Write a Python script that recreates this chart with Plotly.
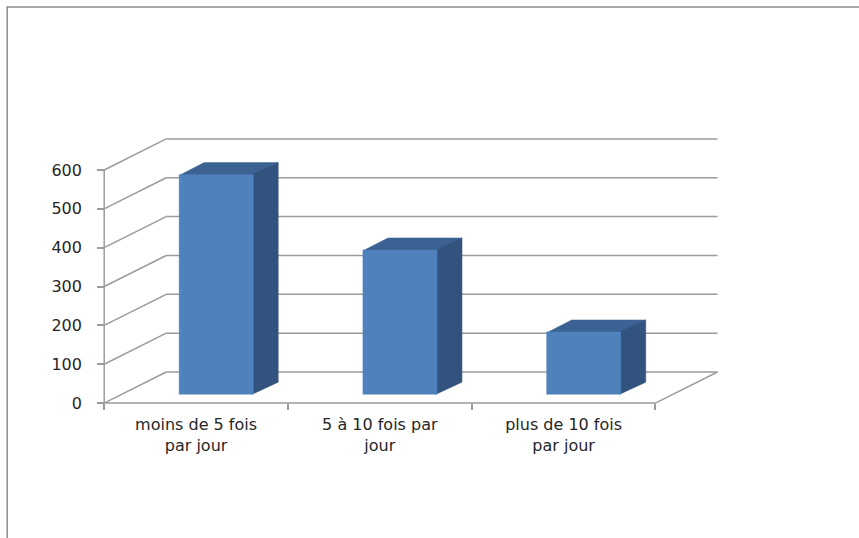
import plotly.graph_objects as go

# ---- data ----
categories = ["moins de 5 fois<br>par jour", "5 à 10 fois par<br>jour", "plus de 10 fois<br>par jour"]
values = [565, 371, 160]
y_ticks = [0, 100, 200, 300, 400, 500, 600]

# ---- oblique 3D projection parameters (data units) ----
WALL_DX, WALL_DY = 0.3375, 80      # full depth offset of the back wall
BAR_DY0 = 23                       # front face of bars relative to floor front
BAR_OFF, BAR_W = -0.092, 0.403     # bar front face horizontal offset / width
BAR_DDX, BAR_DDY = 0.136, 31       # bar depth offset

X0, X1 = -0.55, 2.9
Y0, Y1 = -10, 690
CAT_PX, VAL_PX = 183.7, 0.3885
W, H = 859, 538
ml = 104 - (-0.5 - X0) * CAT_PX
pw = (X1 - X0) * CAT_PX
mr = W - ml - pw
ph = (Y1 - Y0) * VAL_PX
mb = H - (403 + (0 - Y0) * VAL_PX)
mt = H - mb - ph

GRID = "#9b9b9b"
FRONT, TOP, SIDE = "#4f81bd", "#3b6293", "#32537d"

fig = go.Figure()

# back-wall gridlines and side-wall diagonals
n = len(categories)
gx, gy = [], []
for v in y_ticks:
    gx += [-0.5 + WALL_DX, n - 0.5 + WALL_DX, None]
    gy += [v + WALL_DY, v + WALL_DY, None]
    gx += [-0.5, -0.5 + WALL_DX, None]
    gy += [v, v + WALL_DY, None]
# floor front + right edge
gx += [-0.5, n - 0.5, n - 0.5 + WALL_DX, None]
gy += [0, 0, WALL_DY, None]
fig.add_trace(go.Scatter(x=gx, y=gy, mode="lines", line=dict(color=GRID, width=1.5),
                         hoverinfo="skip", showlegend=False))
# front vertical axis line
fig.add_trace(go.Scatter(x=[-0.5, -0.5], y=[0, y_ticks[-1]], mode="lines",
                         line=dict(color=GRID, width=1.5), hoverinfo="skip", showlegend=False))

# 3D bars: top, side and front faces
for i, v in enumerate(values):
    xl = i + BAR_OFF
    xr = xl + BAR_W
    b = BAR_DY0
    t = BAR_DY0 + v
    fig.add_trace(go.Scatter(
        x=[xl, xr, xr + BAR_DDX, xl + BAR_DDX, xl],
        y=[t - 2, t - 2, t + BAR_DDY, t + BAR_DDY, t - 2],
        mode="lines", fill="toself", fillcolor=TOP, line=dict(width=0.5, color=TOP),
        hoverinfo="skip", showlegend=False))
    fig.add_trace(go.Scatter(
        x=[xr - 0.005, xr + BAR_DDX, xr + BAR_DDX, xr - 0.005, xr - 0.005],
        y=[b, b + BAR_DDY, t + BAR_DDY, t, b],
        mode="lines", fill="toself", fillcolor=SIDE, line=dict(width=0.5, color=SIDE),
        hoverinfo="skip", showlegend=False))
    fig.add_trace(go.Scatter(
        x=[xl, xr, xr, xl, xl],
        y=[b, b, t, t, b],
        mode="lines", fill="toself", fillcolor=FRONT, line=dict(width=0.5, color=FRONT),
        hoverinfo="skip", showlegend=False))

xs = list(range(n))
font = dict(family="DejaVu Sans", size=16, color="#262626")

fig.update_layout(
    width=W, height=H,
    margin=dict(l=ml, r=mr, t=mt, b=mb, pad=0),
    paper_bgcolor="white", plot_bgcolor="rgba(0,0,0,0)",
    showlegend=False,
    xaxis=dict(range=[X0, X1], tickmode="array", tickvals=xs, ticktext=categories,
               ticks="", showgrid=False, zeroline=False, showline=False,
               anchor="free", position=(0 - Y0) / (Y1 - Y0), automargin=False,
               tickfont=font, ticklabelstandoff=10,
               minor=dict(tickmode="array", tickvals=[i - 0.5 for i in range(n + 1)],
                          ticks="outside", ticklen=6, tickwidth=1.5, tickcolor=GRID,
                          showgrid=False)),
    yaxis=dict(range=[Y0, Y1], tickmode="array", tickvals=y_ticks,
               ticktext=[str(v) for v in y_ticks],
               ticks="outside", ticklen=7, tickwidth=1.5, tickcolor=GRID,
               showgrid=False, zeroline=False, showline=False,
               anchor="free", position=(-0.5 - X0) / (X1 - X0), automargin=False,
               tickfont=font, ticklabelstandoff=12),
)

# outer frame
fig.add_shape(type="rect", xref="paper", yref="paper",
              x0=(7 - ml) / pw, x1=(W + 5 - ml) / pw,
              y0=(H - mb - (H + 8)) / ph, y1=(H - mb - 7) / ph,
              line=dict(color="#8c8c8c", width=1.5), fillcolor="rgba(0,0,0,0)", layer="below")

fig.write_html("out.html", config={"displayModeBar": False})
